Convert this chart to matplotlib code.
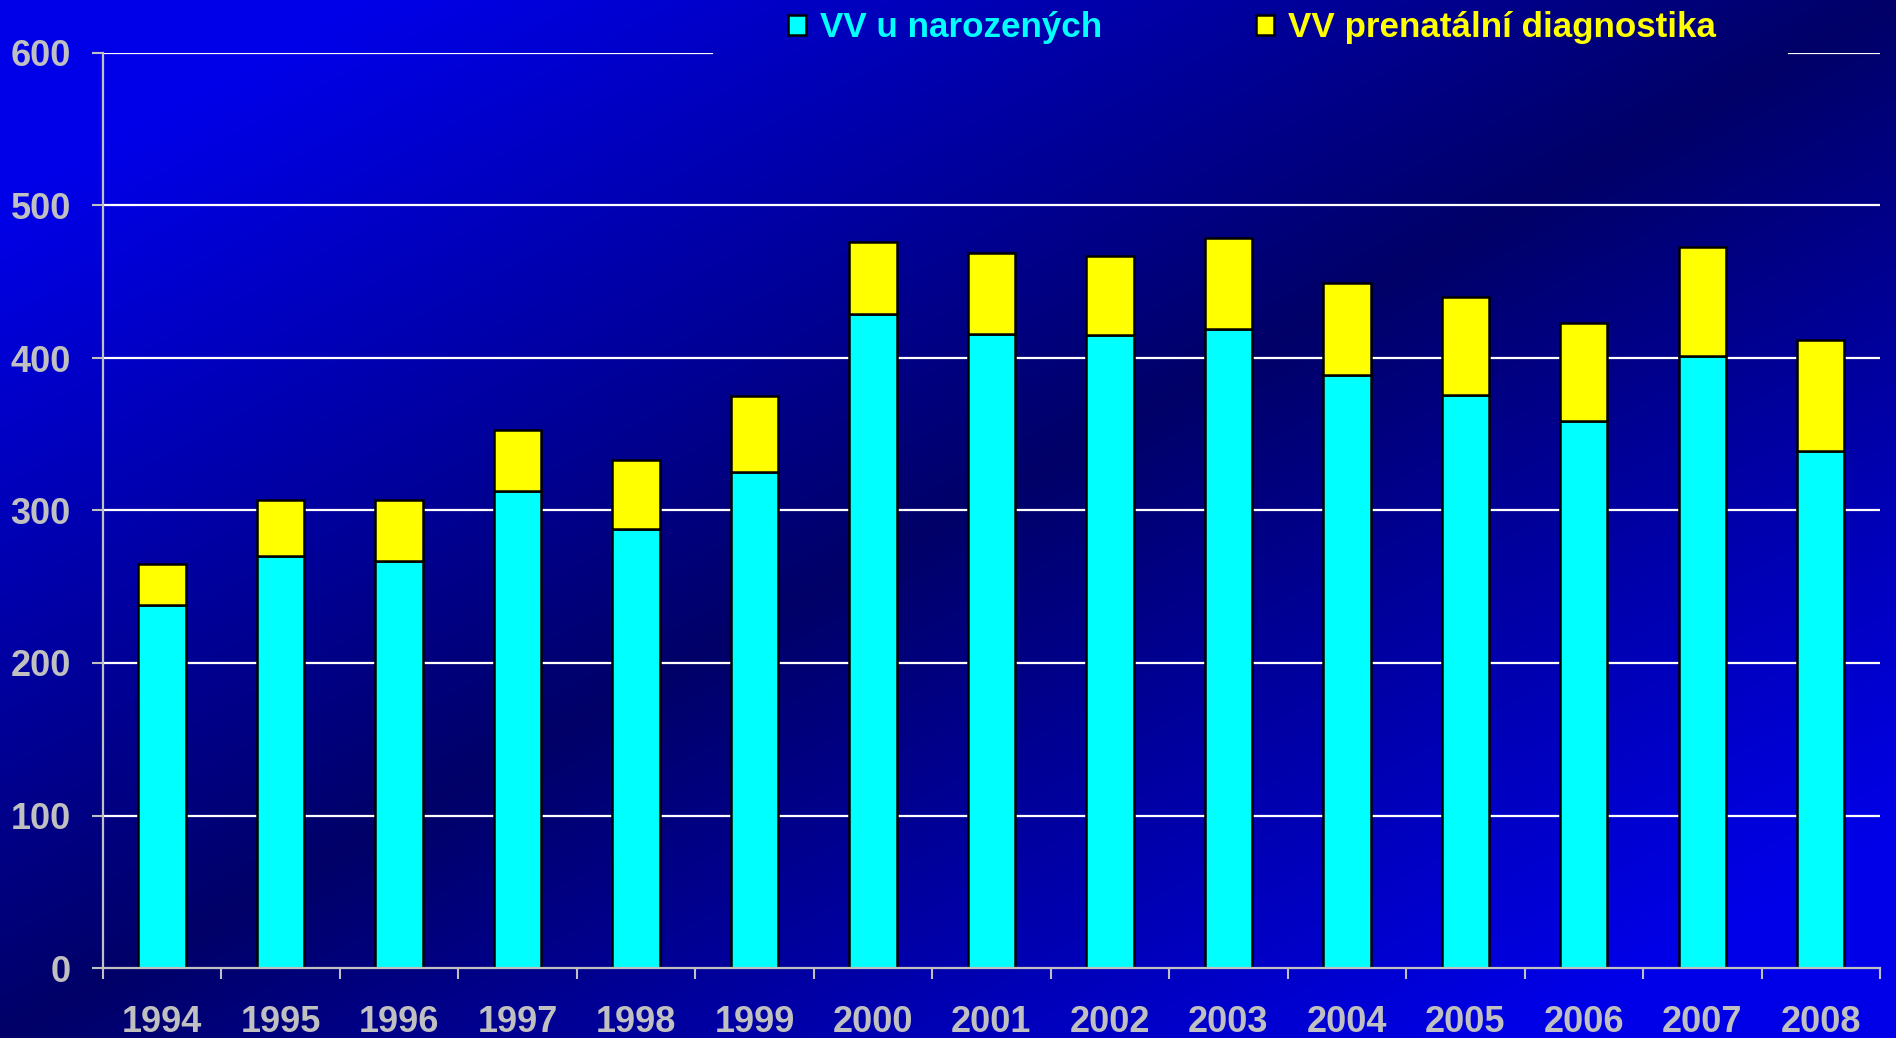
import matplotlib
matplotlib.use("Agg")
import matplotlib.pyplot as plt
import numpy as np

# data
years = ["1994", "1995", "1996", "1997", "1998", "1999", "2000", "2001",
         "2002", "2003", "2004", "2005", "2006", "2007", "2008"]
narozeni = [238, 270, 267, 313, 288, 325, 429, 416, 415, 419, 389, 376, 359, 401, 339]
prenatalni = [27, 37, 40, 40, 45, 50, 47, 53, 52, 60, 60, 64, 64, 72, 73]

plt.rcParams["font.family"] = ["Liberation Sans", "DejaVu Sans"]
plt.rcParams["font.weight"] = "bold"

W, H = 1896, 1038
fig = plt.figure(figsize=(W / 100, H / 100), dpi=100)

# gradient background: bright blue in two corners, dark navy across the middle
bg = fig.add_axes([0, 0, 1, 1], zorder=-10)
xx, yy = np.meshgrid(np.linspace(0, 1, 400), np.linspace(0, 1, 220))
t = (xx + yy) / 2
s = np.clip(np.abs(t - 0.5) / 0.4, 0, 1)
blue = (0x68 + (0xe8 - 0x68) * s) / 255
img = np.zeros((220, 400, 3))
img[..., 2] = blue
bg.imshow(img, aspect="auto", extent=[0, 1, 0, 1], origin="upper", interpolation="bilinear")
bg.axis("off")

left, right = 102.8 / W, 1880 / W
bottom, top = 1 - 968 / H, 1 - 53 / H
ax = fig.add_axes([left, bottom, right - left, top - bottom])
ax.set_facecolor("none")

x = np.arange(len(years))
ax.bar(x, narozeni, width=0.4, color="#00ffff", edgecolor="black", linewidth=1.8,
       label="VV u narozených", zorder=3)
ax.bar(x, prenatalni, width=0.4, bottom=narozeni, color="#ffff00", edgecolor="black",
       linewidth=1.8, label="VV prenatální diagnostika", zorder=3)

ax.set_xlim(-0.5, len(years) - 0.5)
ax.set_ylim(0, 600)

# white gridlines, the top one broken where the legend sits
for v in [100, 200, 300, 400, 500]:
    ax.axhline(v, color="white", linewidth=1.6, zorder=1)
ax.axhline(600, xmin=0, xmax=0.343, color="white", linewidth=1.6, zorder=1)
ax.axhline(600, xmin=0.949, xmax=1, color="white", linewidth=1.6, zorder=1)

for side in ["top", "right"]:
    ax.spines[side].set_visible(False)
for side in ["left", "bottom"]:
    ax.spines[side].set_color("#c0c0c0")
    ax.spines[side].set_linewidth(1.6)
ax.spines["bottom"].set_zorder(4)

gray = "#c0c0c0"
ax.set_yticks(range(0, 601, 100))
ax.tick_params(axis="y", direction="out", length=8, width=1.5, color=gray,
               labelcolor=gray, labelsize=26, pad=15)
ax.set_xticks(x)
ax.set_xticklabels(years)
ax.set_xticks(np.arange(-0.5, len(years), 1), minor=True)
ax.tick_params(axis="x", which="major", length=0, labelcolor=gray, labelsize=26, pad=26.5)
ax.tick_params(axis="x", which="minor", direction="out", length=8, width=1.5, color=gray)
for lbl in ax.get_xticklabels() + ax.get_yticklabels():
    lbl.set_fontweight("bold")

leg = fig.legend(loc="center left", bbox_to_anchor=(788 / W, 1 - 28 / H), ncol=2,
                 frameon=False, fontsize=25.2, borderpad=0, borderaxespad=0,
                 handlelength=0.52, handleheight=0.52, handletextpad=0.39,
                 columnspacing=4.4)
for txt, col in zip(leg.get_texts(), ["#00ffff", "#ffff00"]):
    txt.set_color(col)
    txt.set_fontweight("bold")

fig.savefig("out.png", dpi=100)
